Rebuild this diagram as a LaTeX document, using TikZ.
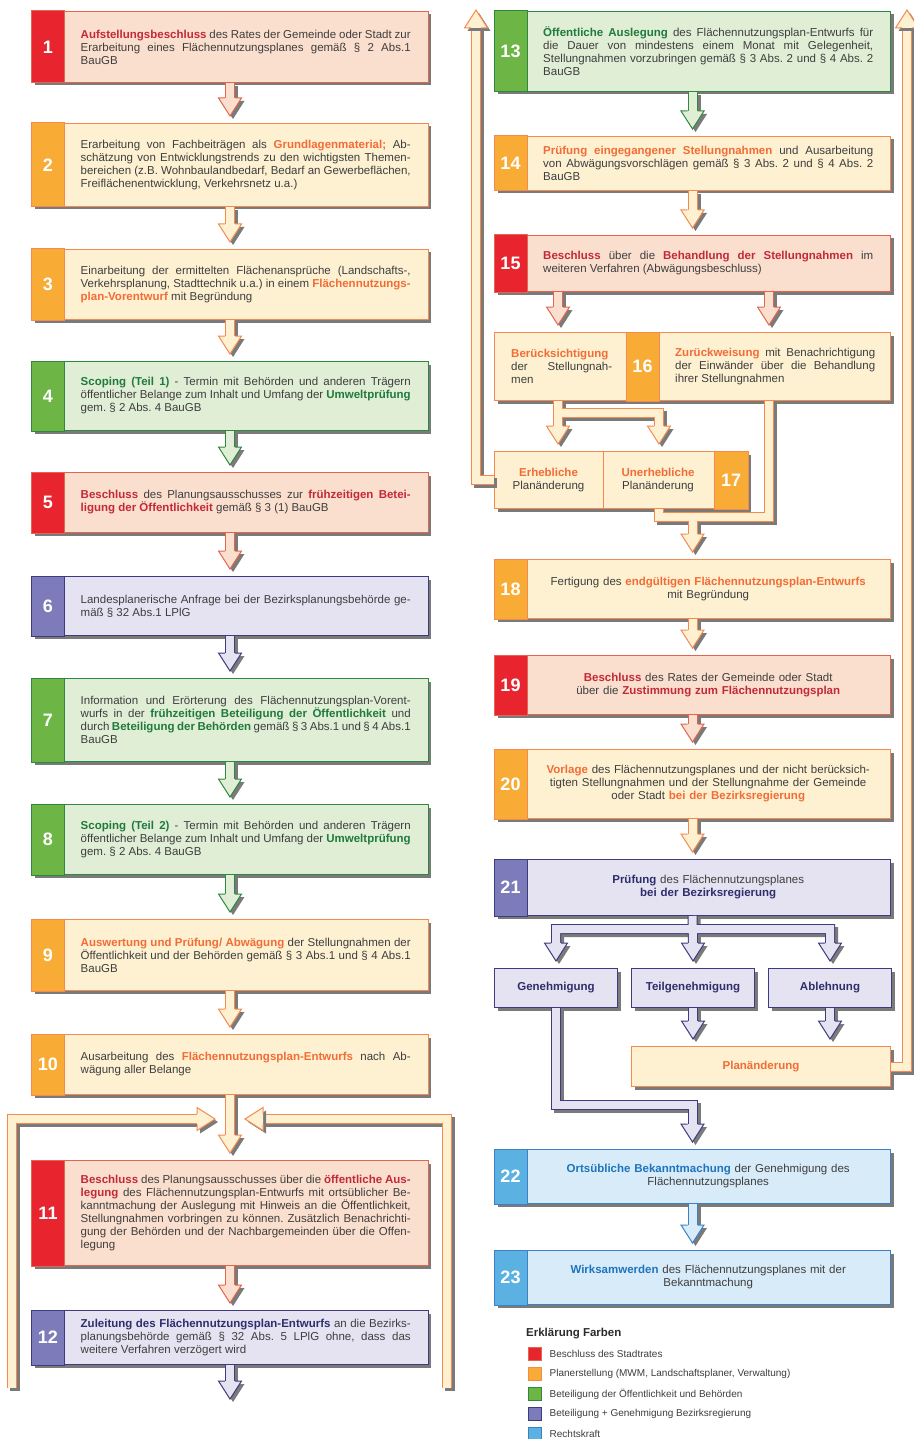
\documentclass[tikz,border=0pt]{standalone}
\usepackage{fontspec}
\setmainfont{Liberation Sans}
\usetikzlibrary{calc, positioning, shadows}

\definecolor{streifenrot}{HTML}{E8242E}
\definecolor{feldrot}{HTML}{FBDFCE}
\definecolor{randrot}{HTML}{E2654E}
\definecolor{textrot}{HTML}{C22A38}
\definecolor{streifenorange}{HTML}{F8AC35}
\definecolor{feldorange}{HTML}{FDF1D2}
\definecolor{randorange}{HTML}{F58A50}
\definecolor{textorange}{HTML}{F36C36}
\definecolor{streifengruen}{HTML}{6DB544}
\definecolor{feldgruen}{HTML}{E1EED6}
\definecolor{randgruen}{HTML}{2E8840}
\definecolor{textgruen}{HTML}{1F7A3C}
\definecolor{streifenlila}{HTML}{7E7BBB}
\definecolor{feldlila}{HTML}{E5E3F1}
\definecolor{randlila}{HTML}{3C3C7E}
\definecolor{textlila}{HTML}{2E2E6C}
\definecolor{streifenblau}{HTML}{5CB1E3}
\definecolor{feldblau}{HTML}{D8EBF8}
\definecolor{randblau}{HTML}{3D80C6}
\definecolor{textblau}{HTML}{1E74BE}
\definecolor{fliesstext}{HTML}{3E3E3E}
\definecolor{schatten}{HTML}{7A7A7A}

\newcommand{\betont}[2]{\textbf{\textcolor{text#1}{#2}}}
\newcommand{\flussband}[2]{\draw[bandschatten] #2; \draw[band=#1] #2;}
\frenchspacing

\begin{document}
\begin{tikzpicture}[x=1pt, y=-1pt]
\tikzset{
  stepbox/.style={draw=rand#1, fill=feld#1, line width=1pt, minimum width=396pt, inner sep=0pt, drop shadow={shadow xshift=3pt, shadow yshift=-3pt, fill=schatten, opacity=1}},
  kleinbox/.style={stepbox=#1, minimum width=123pt, minimum height=39pt, font=\bfseries\fontsize{11.5}{13}\selectfont, text=text#1},
  steptext/.style={anchor=west, text width=330pt, inner sep=0pt, align=justify, text=fliesstext, font=\fontsize{11.5}{13}\selectfont, execute at begin node={\hyphenpenalty=10000\relax\tolerance=10000\relax}},
  nummer/.style={text=white, inner sep=0pt, font=\bfseries\fontsize{18}{18}\selectfont},
  band/.style={draw=rand#1, line width=1pt, double=feld#1, double distance=8pt},
  bandschatten/.style={draw=schatten, line width=10pt, transform canvas={shift={(3pt,-3pt)}}},
  kopf/.pic={
    \fill[schatten, transform canvas={shift={(3pt,-3pt)}}] (-11.5,-18) -- (0,0) -- (11.5,-18) -- cycle;
    \filldraw[fill=feld#1, draw=rand#1, line width=1pt] (-5,-18) -- (-11.5,-18) -- (0,0) -- (11.5,-18) -- (5,-18);
  },
  legendfeld/.style={minimum size=13pt, inner sep=0pt, line width=1pt},
  legendtext/.style={anchor=west, inner sep=0pt, text=fliesstext, font=\fontsize{10}{12}\selectfont},
}
\path[use as bounding box, fill=white] (0,0) rectangle (913,1439);

\node[stepbox=rot, minimum height=71pt, anchor=north] (b1) at (230,11) {};
\node[stepbox=orange, minimum height=83pt, below=40pt of b1] (b2) {};
\node[stepbox=orange, minimum height=70pt, below=42pt of b2] (b3) {};
\node[stepbox=gruen, minimum height=69pt, below=41pt of b3] (b4) {};
\node[stepbox=rot, minimum height=60pt, below=41pt of b4] (b5) {};
\node[stepbox=lila, minimum height=59pt, below=43pt of b5] (b6) {};
\node[stepbox=gruen, minimum height=83pt, below=42pt of b6] (b7) {};
\node[stepbox=gruen, minimum height=70pt, below=42pt of b7] (b8) {};
\node[stepbox=orange, minimum height=71pt, below=44pt of b8] (b9) {};
\node[stepbox=orange, minimum height=60pt, below=43pt of b9] (b10) {};
\node[stepbox=rot, minimum height=105pt, below=65pt of b10] (b11) {};
\node[stepbox=lila, minimum height=54pt, below=44pt of b11] (b12) {};

\node[stepbox=gruen, minimum height=80pt, anchor=north] (b13) at (692.5,11) {};
\node[stepbox=orange, minimum height=54pt, below=44pt of b13] (b14) {};
\node[stepbox=rot, minimum height=56pt, below=44pt of b14] (b15) {};
\node[stepbox=orange, minimum height=68pt, below=40pt of b15] (b16) {};
\node[stepbox=orange, minimum width=253pt, minimum height=57pt, below=50pt of b16.south west, anchor=north west] (b17) {};
\node[stepbox=orange, minimum height=59pt, below=158pt of b16] (b18) {};
\node[stepbox=rot, minimum height=59pt, below=36pt of b18] (b19) {};
\node[stepbox=orange, minimum height=69pt, below=34pt of b19] (b20) {};
\node[stepbox=lila, minimum height=56pt, below=40pt of b20] (b21) {};
\node[kleinbox=lila, below=52pt of b21.south west, anchor=north west] (gen) {Genehmigung};
\node[kleinbox=lila, right=13pt of gen] (teil) {Teilgenehmigung};
\node[kleinbox=lila, right=13pt of teil] (abl) {Ablehnung};
\node[kleinbox=orange, minimum width=259pt, minimum height=40pt, below=38pt of teil.south west, anchor=north west] (plan) {Planänderung};
\node[stepbox=blau, minimum height=54pt, below=233pt of b21] (b22) {};
\node[stepbox=blau, minimum height=54pt, below=46pt of b22] (b23) {};

\foreach \i/\fb in {1/rot, 2/orange, 3/orange, 4/gruen, 5/rot, 6/lila, 7/gruen, 8/gruen, 9/orange, 10/orange, 11/rot, 12/lila, 13/gruen, 14/orange, 15/rot, 18/orange, 19/rot, 20/orange, 21/lila, 22/blau, 23/blau}
{
  \filldraw[fill=streifen\fb, draw=rand\fb, line width=1pt] (b\i.north west) rectangle ([xshift=33pt]b\i.south west);
  \node[nummer] (n\i) at ([xshift=16.5pt]b\i.west) {\i};
}
\filldraw[fill=streifenorange, draw=randorange, line width=1pt] ($(b16.north west)+(132,0)$) rectangle ($(b16.south west)+(165,0)$);
\node[nummer] (n16) at ($(b16.west)+(148.5,0)$) {16};
\filldraw[fill=streifenorange, draw=randorange, line width=1pt] ($(b17.north east)+(-34,0)$) rectangle (b17.south east);
\draw[randorange, line width=1pt] ($(b17.north west)+(109,0)$) -- ($(b17.south west)+(109,0)$);
\node[nummer] (n17) at ($(b17.east)+(-17,0)$) {17};

\node[steptext, right=49pt of b1.west] (t1) {\betont{rot}{Aufstellungsbeschluss} des Rates der Gemeinde oder Stadt zur\linebreak Erarbeitung eines Flächennutzungsplanes gemäß § 2 Abs.1\linebreak BauGB};
\node[steptext, right=49pt of b2.west] (t2) {Erarbeitung von Fachbeiträgen als \betont{orange}{Grundlagenmaterial;} Ab-\linebreak schätzung von Entwicklungstrends zu den wichtigsten Themen-\linebreak bereichen (z.B. Wohnbaulandbedarf, Bedarf an Gewerbeflächen,\linebreak Freiflächenentwicklung, Verkehrsnetz u.a.)};
\node[steptext, right=49pt of b3.west] (t3) {Einarbeitung der ermittelten Flächenansprüche (Landschafts-,\linebreak Verkehrsplanung, Stadttechnik u.a.) in einem \betont{orange}{Flächennutzungs-}\linebreak \betont{orange}{plan-Vorentwurf} mit Begründung};
\node[steptext, right=49pt of b4.west] (t4) {\betont{gruen}{Scoping (Teil 1)} - Termin mit Behörden und anderen Trägern\linebreak öffentlicher Belange zum Inhalt und Umfang der \betont{gruen}{Umweltprüfung}\linebreak gem. § 2 Abs. 4 BauGB};
\node[steptext, right=49pt of b5.west] (t5) {\betont{rot}{Beschluss} des Planungsausschusses zur \betont{rot}{frühzeitigen Betei-}\linebreak \betont{rot}{ligung der Öffentlichkeit} gemäß § 3 (1) BauGB};
\node[steptext, right=49pt of b6.west] (t6) {Landesplanerische Anfrage bei der Bezirksplanungsbehörde ge-\linebreak mäß § 32 Abs.1 LPlG};
\node[steptext, right=49pt of b7.west] (t7) {Information und Erörterung des Flächennutzungsplan-Vorent-\linebreak wurfs in der \betont{gruen}{frühzeitigen Beteiligung der Öffentlichkeit} und\linebreak durch \betont{gruen}{Beteiligung der Behörden} gemäß § 3 Abs.1 und § 4 Abs.1\linebreak BauGB};
\node[steptext, right=49pt of b8.west] (t8) {\betont{gruen}{Scoping (Teil 2)} - Termin mit Behörden und anderen Trägern\linebreak öffentlicher Belange zum Inhalt und Umfang der \betont{gruen}{Umweltprüfung}\linebreak gem. § 2 Abs. 4 BauGB};
\node[steptext, right=49pt of b9.west] (t9) {\betont{orange}{Auswertung und Prüfung/ Abwägung} der Stellungnahmen der\linebreak Öffentlichkeit und der Behörden gemäß § 3 Abs.1 und § 4 Abs.1\linebreak BauGB};
\node[steptext, right=49pt of b10.west] (t10) {Ausarbeitung des \betont{orange}{Flächennutzungsplan-Entwurfs} nach Ab-\linebreak wägung aller Belange};
\node[steptext, right=49pt of b11.west] (t11) {\betont{rot}{Beschluss} des Planungsausschusses über die \betont{rot}{öffentliche Aus-}\linebreak \betont{rot}{legung} des Flächennutzungsplan-Entwurfs mit ortsüblicher Be-\linebreak kanntmachung der Auslegung mit Hinweis an die Öffentlichkeit,\linebreak Stellungnahmen vorbringen zu können. Zusätzlich Benachrichti-\linebreak gung der Behörden und der Nachbargemeinden über die Offen-\linebreak legung};
\node[steptext, right=49pt of b12.west] (t12) {\betont{lila}{Zuleitung des Flächennutzungsplan-Entwurfs} an die Bezirks-\linebreak planungsbehörde gemäß § 32 Abs. 5 LPlG ohne, dass das\linebreak weitere Verfahren verzögert wird};
\node[steptext, right=49pt of b13.west] (t13) {\betont{gruen}{Öffentliche Auslegung} des Flächennutzungsplan-Entwurfs für\linebreak die Dauer von mindestens einem Monat mit Gelegenheit,\linebreak Stellungnahmen vorzubringen gemäß § 3 Abs. 2 und § 4 Abs. 2\linebreak BauGB};
\node[steptext, right=49pt of b14.west] (t14) {\betont{orange}{Prüfung eingegangener Stellungnahmen} und Ausarbeitung\linebreak von Abwägungsvorschlägen gemäß § 3 Abs. 2 und § 4 Abs. 2\linebreak BauGB};
\node[steptext, right=49pt of b15.west] (t15) {\betont{rot}{Beschluss} über die \betont{rot}{Behandlung der Stellungnahmen} im\linebreak weiteren Verfahren (Abwägungsbeschluss)};
\node[steptext, text width=101pt, right=17pt of b16.west] (t16l) {\betont{orange}{Berücksichtigung}\linebreak der Stellungnah-\linebreak men};
\node[steptext, text width=200pt, right=181pt of b16.west] (t16r) {\betont{orange}{Zurückweisung} mit Benachrichtigung\linebreak der Einwänder über die Behandlung\linebreak ihrer Stellungnahmen};
\node[steptext, align=center, text width=105pt, anchor=center] (t17e) at ($(b17.west)+(54.5,0)$) {\betont{orange}{Erhebliche}\\Planänderung};
\node[steptext, align=center, text width=105pt, anchor=center] (t17u) at ($(b17.west)+(164,0)$) {\betont{orange}{Unerhebliche}\\Planänderung};
\node[steptext, align=center, right=49pt of b18.west] (t18) {Fertigung des \betont{orange}{endgültigen Flächennutzungsplan-Entwurfs}\\mit Begründung};
\node[steptext, align=center, right=49pt of b19.west] (t19) {\betont{rot}{Beschluss} des Rates der Gemeinde oder Stadt\\über die \betont{rot}{Zustimmung zum Flächennutzungsplan}};
\node[steptext, align=center, right=49pt of b20.west] (t20) {\betont{orange}{Vorlage} des Flächennutzungsplanes und der nicht berücksich-\\tigten Stellungnahmen und der Stellungnahme der Gemeinde\\oder Stadt \betont{orange}{bei der Bezirksregierung}};
\node[steptext, align=center, right=49pt of b21.west] (t21) {\betont{lila}{Prüfung} des Flächennutzungsplanes\\\betont{lila}{bei der Bezirksregierung}};
\node[steptext, align=center, right=49pt of b22.west] (t22) {\betont{blau}{Ortsübliche Bekanntmachung} der Genehmigung des\\Flächennutzungsplanes};
\node[steptext, align=center, right=49pt of b23.west] (t23) {\betont{blau}{Wirksamwerden} des Flächennutzungsplanes mit der\\Bekanntmachung};

\foreach \von/\nach/\fb in {b1/b2/rot, b2/b3/orange, b3/b4/orange, b4/b5/gruen, b5/b6/rot, b6/b7/lila, b7/b8/gruen, b8/b9/gruen, b9/b10/orange, b10/b11/orange, b11/b12/rot, b13/b14/gruen, b14/b15/orange, b18/b19/orange, b19/b20/rot, b20/b21/orange, b22/b23/blau, teil/plan/lila, abl/plan/lila}
{
  \flussband{\fb}{(\von.south) -- ($(\von.south |- \nach.north)+(0,-25)$)}
  \pic at ($(\von.south |- \nach.north)+(0,-7)$) {kopf=\fb};
}

\coordinate (weiter) at ($(b12.south)+(0,34)$);
\flussband{lila}{(b12.south) -- ($(weiter)+(0,-18)$)}
\pic at (weiter) {kopf=lila};

\coordinate (einL) at ($(b11.north)+(-15,-41)$);
\coordinate (einR) at ($(b11.north)+(15,-41)$);
\coordinate (fussL) at (12,1388);
\coordinate (fussR) at (447,1388);
\flussband{orange}{(fussL) |- ($(einL)+(-18,0)$)}
\pic[rotate=90] at (einL) {kopf=orange};
\flussband{orange}{(fussR) |- ($(einR)+(18,0)$)}
\pic[rotate=-90] at (einR) {kopf=orange};

\coordinate (x16l) at ($(b16.north west)+(64,0)$);
\coordinate (x16r) at ($(b16.north west)+(275,0)$);
\foreach \x in {x16l, x16r}
{
  \flussband{rot}{(\x |- b15.south) -- ($(\x)+(0,-25)$)}
  \pic at ($(\x)+(0,-7)$) {kopf=rot};
}

\coordinate (x17u) at ($(b17.north west)+(165,0)$);
\flussband{orange}{(x16l |- b16.south) -- ($(x16l |- b17.north)+(0,-25)$) ($(x16l |- b16.south)+(0,12)$) -| ($(x17u)+(0,-25)$)}
\pic at ($(x16l |- b17.north)+(0,-7)$) {kopf=orange};
\pic at ($(x17u)+(0,-7)$) {kopf=orange};

\coordinate (sammel) at ($(b18.north)+(0,-42)$);
\flussband{orange}{(x17u |- b17.south) |- (sammel) -| (x16r |- b16.south) (sammel) -- ($(b18.north)+(0,-25)$)}
\pic at ($(b18.north)+(0,-7)$) {kopf=orange};

\coordinate (spitzeL) at ($(b13.north west)+(-18,-1)$);
\coordinate (spitzeR) at ($(b13.north east)+(16,-1)$);
\flussband{orange}{(b17.west) -| ($(spitzeL)+(0,18)$)}
\pic[rotate=180] at (spitzeL) {kopf=orange};
\flussband{orange}{(plan.east) -| ($(spitzeR)+(0,18)$)}
\pic[rotate=180] at (spitzeR) {kopf=orange};

\coordinate (verteiler) at ($(b21.south)+(0,13)$);
\flussband{lila}{(b21.south) -- ($(teil.north)+(0,-25)$) ($(gen.north)+(0,-25)$) |- (verteiler) -| ($(abl.north)+(0,-25)$)}
\foreach \z in {gen, teil, abl}
  \pic at ($(\z.north)+(0,-7)$) {kopf=lila};

\flussband{lila}{(gen.south) |- ($(b22.north)+(0,-44)$) -- ($(b22.north)+(0,-25)$)}
\pic at ($(b22.north)+(0,-7)$) {kopf=lila};

\node[anchor=west, inner sep=0pt, text=fliesstext!70!black, font=\bfseries\fontsize{11.5}{13}\selectfont] (legende) at (526,1334) {Erklärung Farben};
\foreach \i/\fb/\txt in {0/rot/Beschluss des Stadtrates, 1/orange/{Planerstellung (MWM, Landschaftsplaner, Verwaltung)}, 2/gruen/Beteiligung der Öffentlichkeit und Behörden, 3/lila/Beteiligung + Genehmigung Bezirksregierung, 4/blau/Rechtskraft}
{
  \node[legendfeld, fill=streifen\fb, draw=rand\fb] (f\fb) at (534.5,1354+20*\i) {};
  \node[legendtext, right=8pt of f\fb] (l\fb) {\txt};
}
\end{tikzpicture}
\end{document}
